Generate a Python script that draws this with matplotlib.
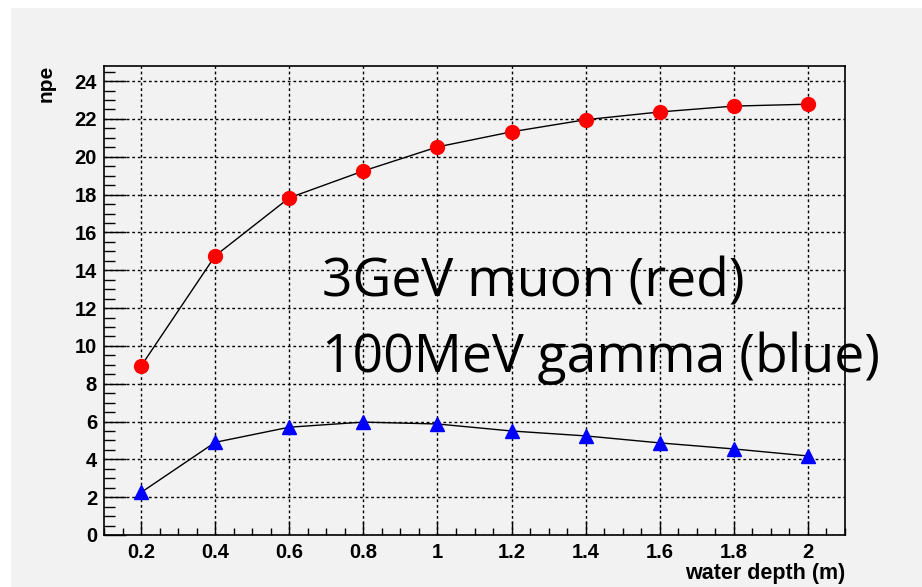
import matplotlib.pyplot as plt
from matplotlib.patches import Rectangle
from matplotlib.ticker import MultipleLocator

# water depth (m) and number of photo-electrons
depth = [0.2, 0.4, 0.6, 0.8, 1.0, 1.2, 1.4, 1.6, 1.8, 2.0]
depth_labels = ["0.2", "0.4", "0.6", "0.8", "1", "1.2", "1.4", "1.6", "1.8", "2"]
npe_muon = [8.93, 14.76, 17.83, 19.25, 20.52, 21.32, 21.96, 22.37, 22.68, 22.78]
npe_gamma = [2.25, 4.9, 5.7, 5.97, 5.87, 5.5, 5.24, 4.87, 4.55, 4.18]

bg = "#f2f2f2"

fig = plt.figure(figsize=(9.22, 5.87), dpi=100, facecolor="white")
# grey canvas behind the pad (leaves a thin white strip top and left)
fig.patches.append(Rectangle((11 / 922, 0), 1 - 11 / 922, 579 / 587,
                             transform=fig.transFigure, facecolor=bg,
                             edgecolor="none", zorder=-10))

ax = fig.add_axes([104 / 922, 52 / 587, (845 - 104) / 922, (535 - 66) / 587])
ax.set_facecolor(bg)

ax.plot(depth, npe_muon, color="black", lw=1, zorder=3)
ax.plot(depth, npe_muon, "o", color="red", ms=10, mec="red", zorder=4)
ax.plot(depth, npe_gamma, color="black", lw=1, zorder=3)
ax.plot(depth, npe_gamma, "^", color="blue", ms=10, mec="blue", zorder=4)

ax.set_xlim(0.1, 2.1)
ax.set_ylim(0, 24.8)
ax.xaxis.set_minor_locator(MultipleLocator(0.05))
ax.yaxis.set_major_locator(MultipleLocator(2))
ax.yaxis.set_minor_locator(MultipleLocator(0.5))
ax.set_xticks(depth)
ax.set_xticklabels(depth_labels)

ax.grid(True, which="major", color="black", linestyle=(0, (2, 2)), lw=1)
ax.tick_params(axis="x", which="major", direction="in", length=10, width=1, pad=6)
ax.tick_params(axis="x", which="minor", direction="in", length=5, width=1)
ax.tick_params(axis="y", which="major", direction="in", length=16, width=1, pad=5)
ax.tick_params(axis="y", which="minor", direction="in", length=8, width=1)
for lab in ax.get_xticklabels() + ax.get_yticklabels():
    lab.set_fontfamily("Liberation Sans")
    lab.set_fontweight("bold")
    lab.set_fontsize(14.5)
for s in ax.spines.values():
    s.set_linewidth(1.2)
    s.set_color("black")

fig.text(46 / 922, 1 - 65 / 587, "npe", rotation=90, ha="center", va="top",
         fontsize=15, fontweight="bold", family="Liberation Sans")
fig.text(845 / 922, 1 - 574 / 587, "water depth (m)", ha="right", va="center",
         fontsize=15.5, fontweight="bold", family="Liberation Sans")

fig.text(322 / 922, 1 - 297 / 587, "3GeV muon (red)", ha="left", va="baseline",
         fontsize=38.5, family="Open Sans", zorder=6)
fig.text(322 / 922, 1 - 372 / 587, "100MeV gamma (blue)", ha="left", va="baseline",
         fontsize=38.5, family="Open Sans", zorder=6)

fig.savefig("out.png", dpi=100, facecolor="white")
